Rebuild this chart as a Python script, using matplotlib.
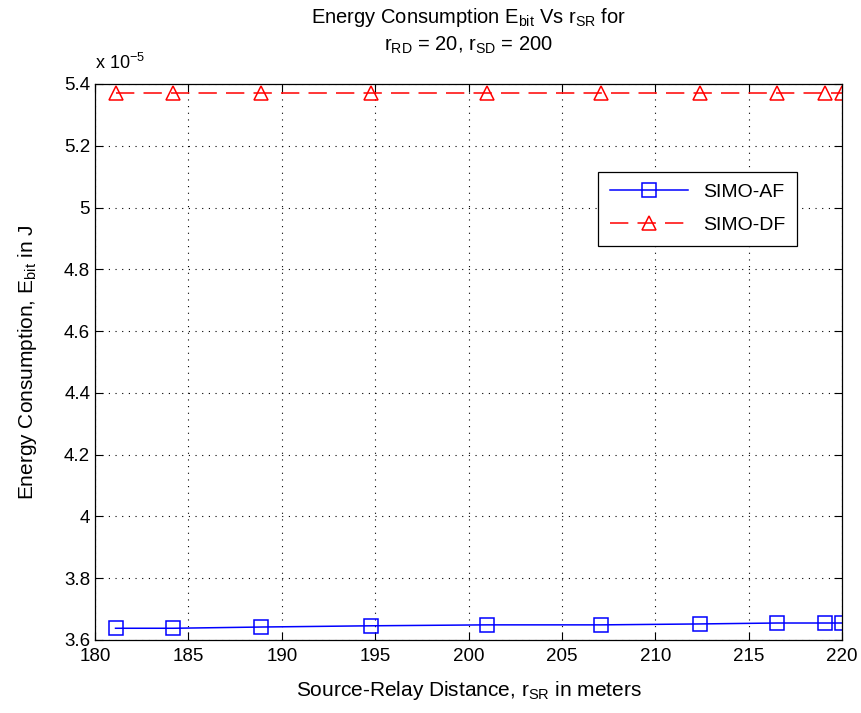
import matplotlib
matplotlib.use("Agg")
import matplotlib.pyplot as plt
from matplotlib.ticker import FuncFormatter, MultipleLocator

plt.rcParams['font.family'] = ['Liberation Sans', 'DejaVu Sans']
plt.rcParams['mathtext.fontset'] = 'custom'
plt.rcParams['mathtext.rm'] = 'Liberation Sans'
plt.rcParams['mathtext.it'] = 'Liberation Sans'
plt.rcParams['mathtext.default'] = 'regular'

# === Data ===
r_sr = [181.1, 184.2, 188.9, 194.8, 201.0, 207.1, 212.4, 216.5, 219.1, 220.0]
# energy per bit, in units of 1e-5 J
e_af = [3.638, 3.638, 3.642, 3.646, 3.649, 3.649, 3.652, 3.655, 3.655, 3.655]
e_df = [5.37, 5.37, 5.37, 5.37, 5.37, 5.37, 5.37, 5.37, 5.37, 5.37]

# === Plotting ===
fig = plt.figure(figsize=(8.62, 7.13), dpi=100)
ax = fig.add_axes([95 / 862, 1 - 640 / 713, 747 / 862, 556 / 713])

ax.plot(r_sr, e_af, '-s', color='blue', lw=1.1, ms=10, mfc='none', mew=1.1,
        label='SIMO-AF')
ax.plot(r_sr, e_df, '--^', color='red', lw=1.1, ms=10, mfc='none', mew=1.1,
        dashes=(12, 6), label='SIMO-DF')

ax.set_xlim(180, 220)
ax.set_ylim(3.6, 5.4)
ax.xaxis.set_major_locator(MultipleLocator(5))
ax.yaxis.set_major_locator(MultipleLocator(0.2))
ax.yaxis.set_major_formatter(FuncFormatter(lambda v, p: '%g' % round(v, 1)))

ax.grid(True, color='black', linestyle=(0, (1, 5)), linewidth=0.8)
ax.tick_params(direction='in', length=6, top=True, right=True, labelsize=13.5,
               width=0.8)
ax.tick_params(axis='x', pad=6)
for s in ax.spines.values():
    s.set_linewidth(0.9)

ax.text(0.0, 1.02, r'x 10$^{-5}$', transform=ax.transAxes, fontsize=13,
        ha='left', va='bottom')

ax.set_title('Energy Consumption E$_{bit}$ Vs r$_{SR}$ for\n'
             'r$_{RD}$ = 20, r$_{SD}$ = 200', fontsize=14.5, pad=24,
             linespacing=1.35)
ax.set_xlabel('Source-Relay Distance, r$_{SR}$ in meters', fontsize=15,
              labelpad=10)
ax.set_ylabel('Energy Consumption, E$_{bit}$ in J', fontsize=15, labelpad=18)

leg = ax.legend(loc='upper right', bbox_to_anchor=(0.94, 0.842), fontsize=14,
                fancybox=False, edgecolor='black', framealpha=1,
                handlelength=4, borderpad=0.6, labelspacing=0.8,
                borderaxespad=0)
leg.get_frame().set_linewidth(0.9)

fig.savefig('out.png', dpi=100)
